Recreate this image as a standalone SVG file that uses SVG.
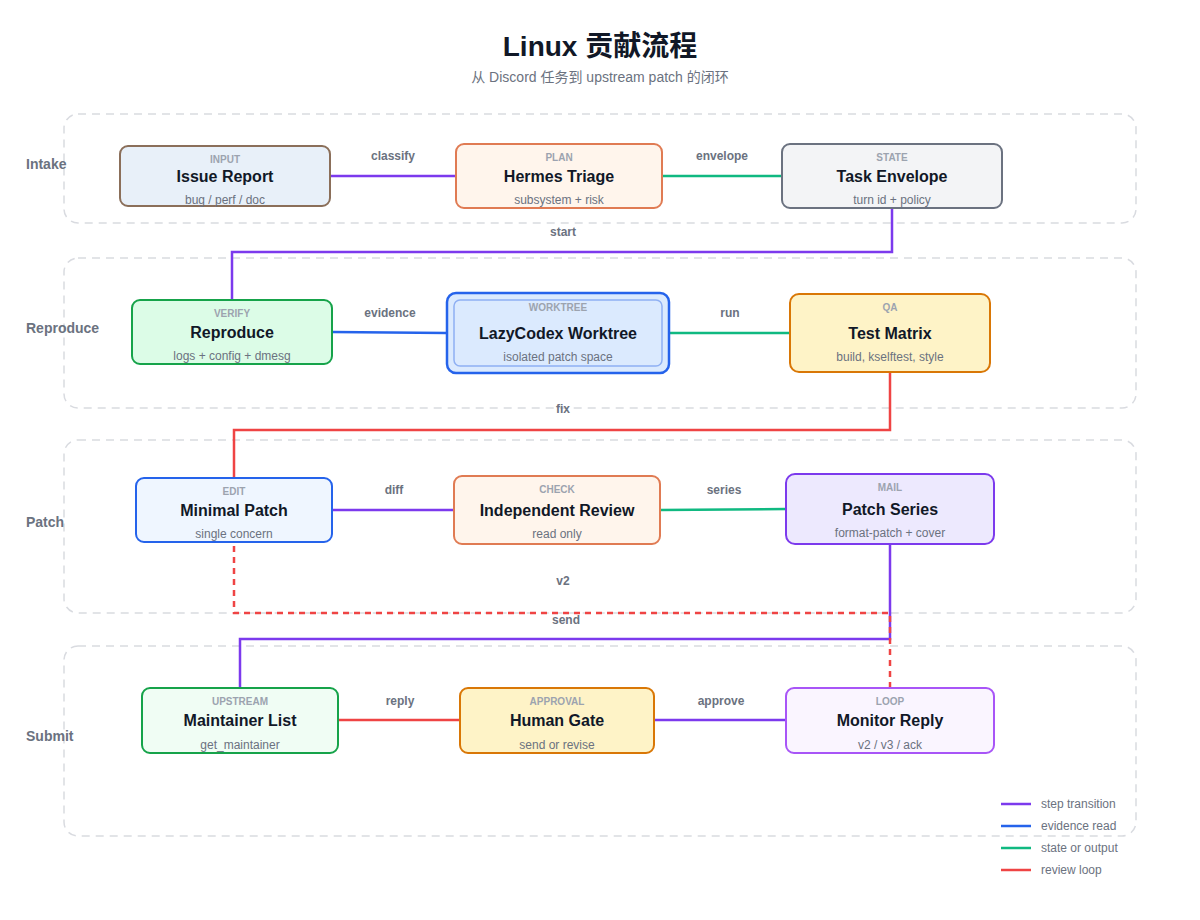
<svg xmlns="http://www.w3.org/2000/svg" width="1200" height="920" viewBox="0 0 1200 920">
<style>
.lane{fill:none;stroke:#d9dbe0;stroke-width:1.5;stroke-dasharray:8 6}
.lanelbl{font-family:"Liberation Sans",Arial,sans-serif;font-size:14px;font-weight:bold;fill:#6b7280}
.node{stroke-width:2}
.k{font-family:"Liberation Sans",Arial,sans-serif;font-size:10px;font-weight:bold;fill:#9ca3af;text-anchor:middle}
.t{font-family:"Liberation Sans",Arial,sans-serif;font-size:16px;font-weight:bold;fill:#111827;text-anchor:middle}
.s{font-family:"Liberation Sans",Arial,sans-serif;font-size:12px;fill:#6b7280;text-anchor:middle}
.el{font-family:"Liberation Sans",Arial,sans-serif;font-size:12px;font-weight:bold;fill:#6b7280;text-anchor:middle}
.c{fill:none;stroke-width:2.5}
.step{stroke:#7c3aed}.evid{stroke:#2563eb}.state{stroke:#10b981}.loop{stroke:#ef4444}
.dash{stroke-dasharray:6 5}
.leg{font-family:"Liberation Sans",Arial,sans-serif;font-size:12px;fill:#6b7280}
</style>
<rect width="1200" height="920" fill="#ffffff"/>
<text x="600" y="56" text-anchor="middle" font-family="Liberation Sans, Noto Sans CJK SC, sans-serif" font-size="28" font-weight="bold" fill="#111827">Linux 贡献流程</text>
<text x="600" y="82" text-anchor="middle" font-family="Liberation Sans, Noto Sans CJK SC, sans-serif" font-size="14" fill="#6b7280">从 Discord 任务到 upstream patch 的闭环</text>

<g id="lanes">
<rect class="lane" x="64" y="114" width="1072" height="109" rx="14"/>
<rect class="lane" x="64" y="258" width="1072" height="150" rx="14"/>
<rect class="lane" x="64" y="440" width="1072" height="173" rx="14"/>
<rect class="lane" x="64" y="646" width="1072" height="190" rx="14"/>
<text class="lanelbl" x="26" y="169">Intake</text>
<text class="lanelbl" x="26" y="333">Reproduce</text>
<text class="lanelbl" x="26" y="527">Patch</text>
<text class="lanelbl" x="26" y="741">Submit</text>
</g>

<g id="connectors">
<path class="c step" d="M330 176 H456"/>
<text class="el" x="393" y="160">classify</text>
<path class="c state" d="M662 176 H782"/>
<text class="el" x="722" y="160">envelope</text>
<path class="c step" d="M892 208 V252 H232 V300"/>
<text class="el" x="563" y="236">start</text>
<path class="c evid" d="M332 332 L447 333"/>
<text class="el" x="390" y="317">evidence</text>
<path class="c state" d="M669 333 H790"/>
<text class="el" x="730" y="317">run</text>
<path class="c loop" d="M890 372 V430 H234 V478"/>
<text class="el" x="563" y="413">fix</text>
<path class="c step" d="M332 510 H454"/>
<text class="el" x="394" y="494">diff</text>
<path class="c state" d="M660 510 L786 509"/>
<text class="el" x="724" y="494">series</text>
<path class="c step" d="M890 544 V639 H240 V688"/>
<text class="el" x="566" y="624">send</text>
<path class="c loop dash" d="M890 688 V613 H234 V542"/>
<text class="el" x="563" y="585">v2</text>
<path class="c loop" d="M338 720 H460"/>
<text class="el" x="400" y="705">reply</text>
<path class="c step" d="M654 720 H786"/>
<text class="el" x="721" y="705">approve</text>
</g>

<g id="issue-report">
<rect class="node" x="120" y="146" width="210" height="60" rx="8" fill="#e8f0f9" stroke="#8b6f5a"/>
<text class="k" x="225" y="163">INPUT</text>
<text class="t" x="225" y="182">Issue Report</text>
<text class="s" x="225" y="204">bug / perf / doc</text>
</g>
<g id="hermes-triage">
<rect class="node" x="456" y="144" width="206" height="64" rx="8" fill="#fff5ec" stroke="#e07b53"/>
<text class="k" x="559" y="161">PLAN</text>
<text class="t" x="559" y="182">Hermes Triage</text>
<text class="s" x="559" y="204">subsystem + risk</text>
</g>
<g id="task-envelope">
<rect class="node" x="782" y="144" width="220" height="64" rx="8" fill="#f3f4f6" stroke="#6b7280"/>
<text class="k" x="892" y="161">STATE</text>
<text class="t" x="892" y="182">Task Envelope</text>
<text class="s" x="892" y="204">turn id + policy</text>
</g>
<g id="reproduce">
<rect class="node" x="132" y="300" width="200" height="64" rx="8" fill="#dcfce7" stroke="#16a34a"/>
<text class="k" x="232" y="317">VERIFY</text>
<text class="t" x="232" y="338">Reproduce</text>
<text class="s" x="232" y="360">logs + config + dmesg</text>
</g>
<g id="lazycodex-worktree">
<rect x="447" y="293" width="222" height="80" rx="9" fill="#dbeafe" stroke="#2563eb" stroke-width="2.5"/>
<rect x="454" y="300" width="208" height="66" rx="6" fill="none" stroke="#8fb0f3" stroke-width="1.5"/>
<text class="k" x="558" y="311">WORKTREE</text>
<text class="t" x="558" y="339">LazyCodex Worktree</text>
<text class="s" x="558" y="361">isolated patch space</text>
</g>
<g id="test-matrix">
<rect class="node" x="790" y="294" width="200" height="78" rx="9" fill="#fef3c7" stroke="#d97706"/>
<text class="k" x="890" y="311">QA</text>
<text class="t" x="890" y="339">Test Matrix</text>
<text class="s" x="890" y="361">build, kselftest, style</text>
</g>
<g id="minimal-patch">
<rect class="node" x="136" y="478" width="196" height="64" rx="8" fill="#eff6ff" stroke="#2563eb"/>
<text class="k" x="234" y="495">EDIT</text>
<text class="t" x="234" y="516">Minimal Patch</text>
<text class="s" x="234" y="538">single concern</text>
</g>
<g id="independent-review">
<rect class="node" x="454" y="476" width="206" height="68" rx="8" fill="#fff5ec" stroke="#e07b53"/>
<text class="k" x="557" y="493">CHECK</text>
<text class="t" x="557" y="516">Independent Review</text>
<text class="s" x="557" y="538">read only</text>
</g>
<g id="patch-series">
<rect class="node" x="786" y="474" width="208" height="70" rx="9" fill="#ede9fe" stroke="#7c3aed"/>
<text class="k" x="890" y="491">MAIL</text>
<text class="t" x="890" y="515">Patch Series</text>
<text class="s" x="890" y="537">format-patch + cover</text>
</g>
<g id="maintainer-list">
<rect class="node" x="142" y="688" width="196" height="65" rx="8" fill="#f0fdf4" stroke="#16a34a"/>
<text class="k" x="240" y="705">UPSTREAM</text>
<text class="t" x="240" y="726">Maintainer List</text>
<text class="s" x="240" y="749">get_maintainer</text>
</g>
<g id="human-gate">
<rect class="node" x="460" y="688" width="194" height="65" rx="8" fill="#fef3c7" stroke="#d97706"/>
<text class="k" x="557" y="705">APPROVAL</text>
<text class="t" x="557" y="726">Human Gate</text>
<text class="s" x="557" y="749">send or revise</text>
</g>
<g id="monitor-reply">
<rect class="node" x="786" y="688" width="208" height="65" rx="8" fill="#faf5ff" stroke="#a855f7"/>
<text class="k" x="890" y="705">LOOP</text>
<text class="t" x="890" y="726">Monitor Reply</text>
<text class="s" x="890" y="749">v2 / v3 / ack</text>
</g>

<g id="legend">
<line class="c step" x1="1001" y1="804" x2="1031" y2="804"/>
<text class="leg" x="1041" y="808">step transition</text>
<line class="c evid" x1="1001" y1="826" x2="1031" y2="826"/>
<text class="leg" x="1041" y="830">evidence read</text>
<line class="c state" x1="1001" y1="848" x2="1031" y2="848"/>
<text class="leg" x="1041" y="852">state or output</text>
<line class="c loop" x1="1001" y1="870" x2="1031" y2="870"/>
<text class="leg" x="1041" y="874">review loop</text>
</g>
</svg>
